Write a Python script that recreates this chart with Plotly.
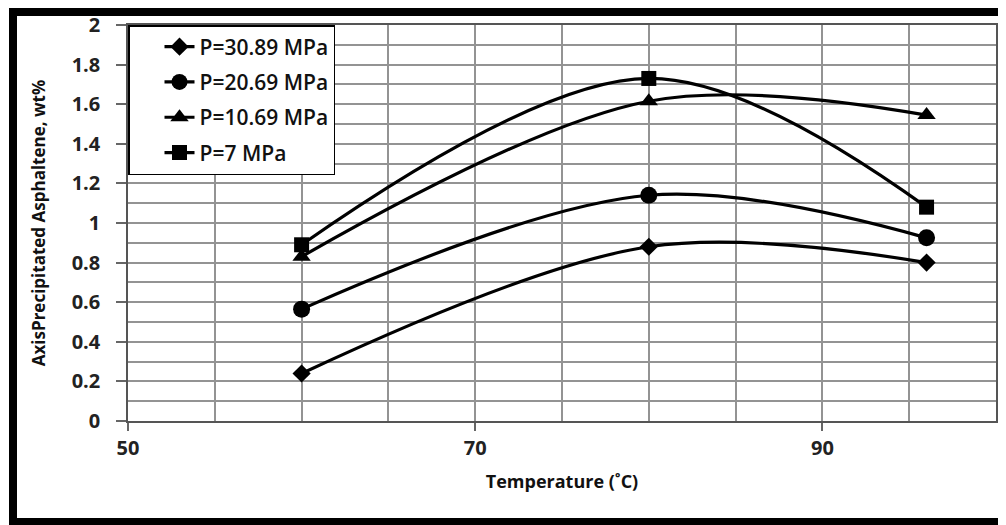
import plotly.graph_objects as go

# The page body adds an 8 px offset; the figure is sized/placed to compensate.
OFF = 8
W, H = 1006 - OFF, 525 - OFF
L, R, T, B = 128 - OFF, 10, 25 - OFF, 104

temperature = [60, 80, 96]
p_30_89 = [0.24, 0.88, 0.80]
p_20_69 = [0.565, 1.14, 0.925]
p_10_69 = [0.83, 1.615, 1.545]
p_7 = [0.89, 1.73, 1.08]

series_names = ["P=30.89 MPa", "P=20.69 MPa", "P=10.69 MPa", "P=7 MPa"]
series_values = [p_30_89, p_20_69, p_10_69, p_7]
symbols = ["diamond", "circle", "triangle-up", "square"]
sizes = [14, 17, 16, 15]

x_ticks = [50, 70, 90]
y_ticks = [0, 0.2, 0.4, 0.6, 0.8, 1, 1.2, 1.4, 1.6, 1.8, 2]
y_labels = ["0", "0.2", "0.4", "0.6", "0.8", "1", "1.2", "1.4", "1.6", "1.8", "2"]

FONT = "Open Sans"

fig = go.Figure()
for i, (name, vals) in enumerate(zip(series_names, series_values)):
    fig.add_trace(go.Scatter(
        x=temperature, y=vals, name=name, mode="lines+markers",
        line=dict(color="black", width=3.2, shape="spline", smoothing=1.0),
        marker=dict(symbol=symbols[i], size=sizes[i], color="black"),
        legendgroup=f"g{i}",
    ))

grid_col = "#939393"
fig.update_layout(
    width=W, height=H,
    margin=dict(l=L, r=R, t=T, b=B, autoexpand=False),
    paper_bgcolor="white", plot_bgcolor="white",
    font=dict(family=FONT, color="#222"),
    showlegend=True,
    legend=dict(
        x=0, y=1, xanchor="left", yanchor="top",
        bgcolor="white", bordercolor="black", borderwidth=1.5,
        font=dict(family=FONT, size=21, weight=600, color="#111"),
        tracegroupgap=5, indentation=30,
        entrywidth=180, entrywidthmode="pixels",
        itemsizing="trace",
    ),
    xaxis=dict(
        range=[50, 100], tickmode="array", tickvals=x_ticks,
        ticktext=[str(v) for v in x_ticks],
        ticks="outside", ticklen=8, tickwidth=1.5, tickcolor="#666",
        showgrid=True, gridcolor=grid_col, gridwidth=1.5,
        minor=dict(dtick=5, tick0=50, showgrid=True, gridcolor=grid_col, gridwidth=1.5, ticks=""),
        showline=True, linecolor="#555", linewidth=1.5, mirror=True,
        zeroline=False, automargin=False,
        tickfont=dict(family=FONT, size=20, weight="bold", color="#222"),
        ticklabelstandoff=0,
        title=dict(text="Temperature (˚C)", standoff=16,
                   font=dict(family=FONT, size=18, weight="bold", color="#111")),
    ),
    yaxis=dict(
        range=[0, 2], tickmode="array", tickvals=y_ticks, ticktext=y_labels,
        ticks="outside", ticklen=10, tickwidth=1.5, tickcolor="#666",
        showgrid=True, gridcolor=grid_col, gridwidth=1.5,
        minor=dict(dtick=0.1, tick0=0, showgrid=True, gridcolor=grid_col, gridwidth=1.5, ticks=""),
        showline=True, linecolor="#555", linewidth=1.5, mirror=True,
        zeroline=False, automargin=False,
        tickfont=dict(family=FONT, size=20, weight="bold", color="#222"),
        ticklabelstandoff=12,
        title=dict(text="AxisPrecipitated Asphaltene, wt%", standoff=22,
                   font=dict(family=FONT, size=17, weight="bold", color="#111")),
    ),
)

# outer black frame (top, left, bottom), given in page pixels
def px_x(p):
    return (p - OFF - L) / (W - L - R)

def px_y(p):
    return (H - B - (p - OFF)) / (H - T - B)

frame = [
    (9, 7, 1006, 16),
    (9, 7, 17, 525),
    (9, 518, 1006, 525),
]
for x0, y0, x1, y1 in frame:
    fig.add_shape(type="rect", xref="paper", yref="paper",
                  x0=px_x(x0), x1=px_x(x1), y0=px_y(y1), y1=px_y(y0),
                  fillcolor="black", line=dict(width=0), layer="above")

fig.write_html("out.html")
